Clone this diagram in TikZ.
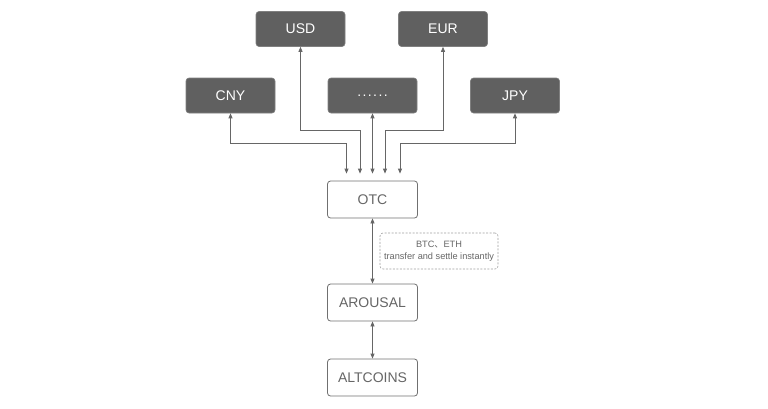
\documentclass[tikz,border=0pt]{standalone}
\usepackage{fontspec}
\setmainfont{Liberation Sans}
\newfontfamily\cjk{Noto Sans CJK SC}
\usepackage{xcolor}
\usepackage{tikz}
\usetikzlibrary{arrows.meta, positioning, calc}

\definecolor{darkbox}{HTML}{606060}
\definecolor{linegray}{HTML}{666666}
\definecolor{edgegray}{HTML}{707070}
\definecolor{textgray}{HTML}{666666}
\definecolor{notegray}{HTML}{A0A0A0}

\begin{document}
\begin{tikzpicture}[
    x=1pt, y=-1pt,
    currency/.style={rectangle, rounded corners=3pt, fill=darkbox, draw=darkbox!80!white, line width=0.6pt, minimum width=89pt, minimum height=35pt, inner sep=0pt, font=\fontsize{14}{16}\selectfont, text=white},
    venue/.style={rectangle, rounded corners=3pt, fill=white, draw=edgegray, line width=0.8pt, minimum width=90pt, minimum height=37pt, inner sep=0pt, font=\fontsize{14}{16}\selectfont, text=textgray},
    note/.style={rectangle, rounded corners=3pt, draw=notegray, dash pattern=on 2pt off 1.5pt, line width=0.6pt, minimum width=118pt, minimum height=36pt, inner sep=0pt, font=\fontsize{9.2}{12}\selectfont, text=textgray, align=center},
    arr/.style={{Triangle[length=5pt,width=4pt]}-{Triangle[length=5pt,width=4pt]}, draw=linegray, line width=0.8pt},
    into/.style={shorten >=7pt}
]
\useasboundingbox (0,0) rectangle (768,408);

% Currencies
\node[currency] (usd) at (300.5, 29) {USD};
\node[currency] (eur) at (443, 29) {EUR};
\node[currency] (cny) at (230.5, 95.5) {CNY};
\node[currency] (more) at (372.5, 95.5) {.\kern1.4pt.\kern1.4pt.\kern1.4pt.\kern1.4pt.\kern1.4pt.};
\node[currency] (jpy) at (515, 95.5) {JPY};

% Exchange chain
\node[venue] (otc) at (372.5, 199.5) {OTC};
\node[venue] (arousal) at (372.5, 302.5) {AROUSAL};
\node[venue] (altcoins) at (372.5, 377.5) {ALTCOINS};

% Note
\node[note] (transfer) at (439, 251) {BTC{\cjk 、}ETH\\transfer and settle instantly};

\draw[arr, into] (cny.south) -- ++(0,30) -| ([xshift=-26pt]otc.north);
\draw[arr, into] (usd.south) -- ++(0,84) -| ([xshift=-12.5pt]otc.north);
\draw[arr, into] (more.south) -- (otc.north);
\draw[arr, into] (eur.south) -- ++(0,84) -| ([xshift=12.5pt]otc.north);
\draw[arr, into] (jpy.south) -- ++(0,30) -| ([xshift=27.5pt]otc.north);
\draw[arr] (otc) -- (arousal);
\draw[arr] (arousal) -- (altcoins);
\end{tikzpicture}
\end{document}
